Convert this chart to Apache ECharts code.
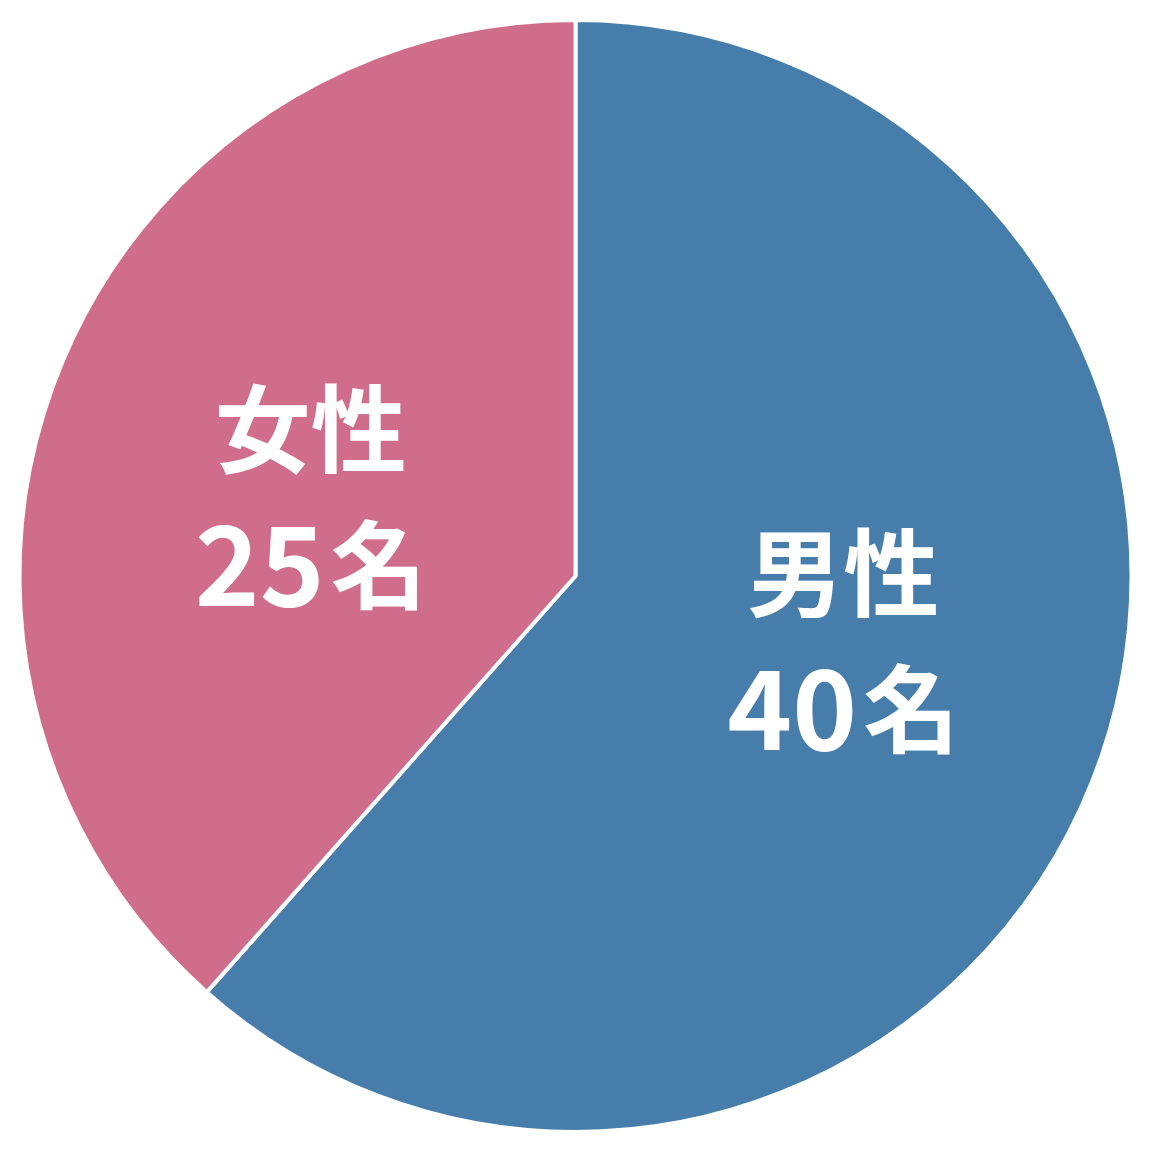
<!DOCTYPE html>
<html><head><meta charset="utf-8">
<script src="https://cdn.jsdelivr.net/npm/echarts@6/dist/echarts.min.js"></script>
<style>html,body{margin:0;padding:0;background:#fff}#c{width:1152px;height:1152px}</style>
</head><body><div id="c"></div>
<script>
const categories = ['男性', '女性'];
const values = [40, 25];
const units = ['名', '名'];
const colors = ['#467DAA', '#CF6D8A'];
const labelPadding = [[0, 0, 70, 10], [40, 4, 0, 0]];

const chart = echarts.init(document.getElementById('c'));
chart.setOption({
  animation: false,
  series: [{
    type: 'pie',
    center: [575.5, 576],
    radius: [0, 556],
    startAngle: 90,
    clockwise: true,
    itemStyle: { borderColor: '#fff', borderWidth: 4 },
    label: {
      show: true,
      position: 'inside',
      color: '#fff',
      fontFamily: 'Noto Sans CJK JP',
      fontWeight: 'bold',
      fontSize: 96,
      lineHeight: 136,
      formatter: p => p.name + '\n{n|' + p.value + '}' + units[p.dataIndex],
      rich: {
        n: { fontSize: 110, lineHeight: 136, fontWeight: 'bold', color: '#fff', fontFamily: 'Noto Sans CJK JP', padding: [0, 6, 0, 0] }
      }
    },
    labelLine: { show: false },
    data: categories.map((n, i) => ({
      name: n, value: values[i],
      itemStyle: { color: colors[i] },
      label: { padding: labelPadding[i] }
    }))
  }]
});
</script></body></html>
